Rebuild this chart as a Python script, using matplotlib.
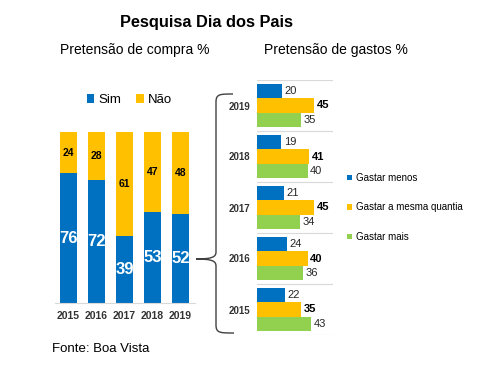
import numpy as np
import matplotlib.pyplot as plt
from matplotlib.path import Path
from matplotlib.patches import PathPatch

plt.rcParams['font.family'] = ['Liberation Sans', 'DejaVu Sans']

# Data
years = ['2015', '2016', '2017', '2018', '2019']
sim = [76, 72, 39, 53, 52]
nao = [24, 28, 61, 47, 48]

gastar_menos = [22, 24, 21, 19, 20]
gastar_mesma = [35, 40, 45, 41, 45]
gastar_mais = [43, 36, 34, 40, 35]

BLUE = '#0070C0'
YELLOW = '#FFC000'
GREEN = '#92D050'
GRID = '#D9D9D9'

W, H = 500, 375
fig = plt.figure(figsize=(5, 3.75), dpi=100)


def px_axes(x0, y0, x1, y1):
    # pixel box (top-left origin) -> figure axes
    return fig.add_axes([x0 / W, 1 - y1 / H, (x1 - x0) / W, (y1 - y0) / H])


# overlay for texts and the brace
ov = fig.add_axes([0, 0, 1, 1])
ov.set_xlim(0, W)
ov.set_ylim(H, 0)
ov.axis('off')

ov.text(206, 23, 'Pesquisa Dia dos Pais', ha='center', va='center',
        fontsize=11.8, fontweight='bold')
ov.text(135, 50, 'Pretensão de compra %', ha='center', va='center', fontsize=10)
ov.text(336, 50, 'Pretensão de gastos %', ha='center', va='center', fontsize=10)
ov.text(52, 349, 'Fonte: Boa Vista', ha='left', va='center', fontsize=9.5)

# brace
verts = [(233, 94), (220, 94), (216, 94), (216, 102),
         (216, 252),
         (216, 257), (212, 259), (196, 259),
         (212, 259), (216, 261), (216, 266),
         (216, 325),
         (216, 333), (220, 333), (234, 333)]
codes = [Path.MOVETO, Path.CURVE4, Path.CURVE4, Path.CURVE4,
         Path.LINETO,
         Path.CURVE4, Path.CURVE4, Path.CURVE4,
         Path.CURVE4, Path.CURVE4, Path.CURVE4,
         Path.LINETO,
         Path.CURVE4, Path.CURVE4, Path.CURVE4]
ov.add_patch(PathPatch(Path(verts, codes), fill=False, lw=1.0, color='#404040'))

# Left: stacked bars
ax = px_axes(55, 132, 195, 303)
x = np.arange(len(years))
ax.bar(x, sim, width=0.63, color=BLUE, label='Sim')
ax.bar(x, nao, width=0.63, bottom=sim, color=YELLOW, label='Não')
for i in range(len(years)):
    ax.text(x[i], sim[i] / 2, str(sim[i]), ha='center', va='center',
            color='white', fontsize=12, fontweight='bold')
    ax.text(x[i], sim[i] + nao[i] / 2, str(nao[i]), ha='center', va='center',
            color='black', fontsize=7.5, fontweight='bold')
ax.set_xlim(-0.48, 4.52)
ax.set_ylim(0, 100)
ax.set_xticks(x)
ax.set_xticklabels(years, fontsize=7.5, fontweight='bold', color='#333333')
ax.tick_params(axis='x', length=0, pad=6)
ax.set_yticks([])
for s in ['top', 'right', 'left']:
    ax.spines[s].set_visible(False)
ax.spines['bottom'].set_color(GRID)
ax.legend(loc='lower center', bbox_to_anchor=(0.53, 1.12), ncol=2, frameon=False,
          fontsize=9.5, handlelength=0.6, handleheight=0.6, handletextpad=0.3,
          columnspacing=1.1, borderaxespad=0)

# Right: grouped horizontal bars
ax2 = px_axes(257, 80, 333, 335)
y = np.arange(len(years))
h = 0.28
off = 0.28
ax2.barh(y + off, gastar_menos, height=h, color=BLUE, label='Gastar menos')
ax2.barh(y, gastar_mesma, height=h, color=YELLOW, label='Gastar a mesma quantia')
ax2.barh(y - off, gastar_mais, height=h, color=GREEN, label='Gastar mais')
for i in range(len(years)):
    ax2.text(gastar_menos[i] + 2, y[i] + off, str(gastar_menos[i]), va='center',
             ha='left', fontsize=8, color='#262626')
    ax2.text(gastar_mesma[i] + 2, y[i], str(gastar_mesma[i]), va='center',
             ha='left', fontsize=8, fontweight='bold', color='black')
    ax2.text(gastar_mais[i] + 2, y[i] - off, str(gastar_mais[i]), va='center',
             ha='left', fontsize=8, color='#262626')
for g in np.arange(-0.5, len(years), 1.0):
    ax2.axhline(g, color=GRID, lw=0.8, zorder=0)
ax2.set_xlim(0, 60)
ax2.set_ylim(-0.5, 4.5)
ax2.set_yticks(y)
ax2.set_yticklabels(years, fontsize=7, fontweight='bold', color='#333333')
ax2.tick_params(axis='y', length=0, pad=5)
ax2.set_xticks([])
for s in ax2.spines.values():
    s.set_visible(False)
ax2.legend(loc='center left', bbox_to_anchor=(1.13, 0.5), frameon=False,
           fontsize=7, handlelength=0.5, handleheight=0.5, handletextpad=0.4,
           labelspacing=2.0, borderaxespad=0)

fig.savefig('out.png', dpi=100)
